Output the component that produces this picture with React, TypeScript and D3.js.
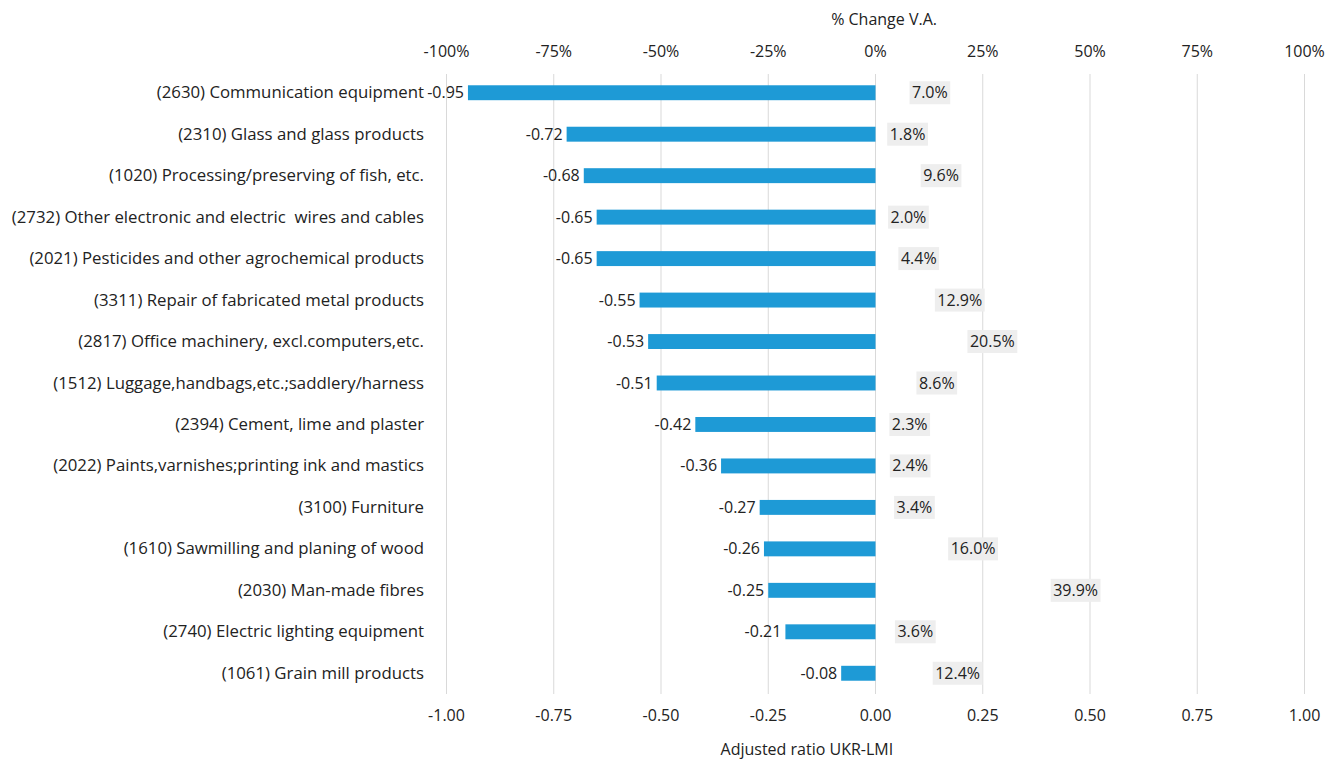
import React from "react";
import * as d3 from "d3";

const categories = [
  "(2630) Communication equipment",
  "(2310) Glass and glass products",
  "(1020) Processing/preserving of fish, etc.",
  "(2732) Other electronic and electric  wires and cables",
  "(2021) Pesticides and other agrochemical products",
  "(3311) Repair of fabricated metal products",
  "(2817) Office machinery, excl.computers,etc.",
  "(1512) Luggage,handbags,etc.;saddlery/harness",
  "(2394) Cement, lime and plaster",
  "(2022) Paints,varnishes;printing ink and mastics",
  "(3100) Furniture",
  "(1610) Sawmilling and planing of wood",
  "(2030) Man-made fibres",
  "(2740) Electric lighting equipment",
  "(1061) Grain mill products",
];
const ratioValues = [-0.95, -0.72, -0.68, -0.65, -0.65, -0.55, -0.53, -0.51, -0.42, -0.36, -0.27, -0.26, -0.25, -0.21, -0.08];
const pctChange = [0.07, 0.018, 0.096, 0.02, 0.044, 0.129, 0.205, 0.086, 0.023, 0.024, 0.034, 0.16, 0.399, 0.036, 0.124];
const bottomTicks = [-1, -0.75, -0.5, -0.25, 0, 0.25, 0.5, 0.75, 1];
const topTicks = [-1, -0.75, -0.5, -0.25, 0, 0.25, 0.5, 0.75, 1];

const W = 1342;
const H = 759;
const FONT = "'Open Sans', 'Noto Sans', sans-serif";
const TEXT = "#222";
const BAR = "#1e9ad6";
const GRID = "#d9d9d9";
const FS = 16;
const FS_CAT = 16.8;

let ctx: CanvasRenderingContext2D | null = null;
function measure(s: string): number {
  if (!ctx) {
    const c = document.createElement("canvas");
    ctx = c.getContext("2d");
  }
  if (!ctx) return s.length * 8.5;
  ctx.font = `${FS}px 'Open Sans'`;
  return ctx.measureText(s).width;
}

export default function App() {
  const x = d3.scaleLinear().domain([-1, 1]).range([446.5, 1304.5]);
  const y = d3.scaleBand().domain(categories).range([72, 694]).paddingInner(0.64).paddingOuter(0.32);
  const fmtB = (v: number) => d3.format(".2f")(v).replace("\u2212", "-");
  const fmtT = (v: number) => `${Math.round(v * 100)}%`;
  const fmtP = (v: number) => d3.format(".1%")(v).replace("\u2212", "-");

  return (
    <svg width={W} height={H} style={{ position: "absolute", left: 0, top: 0, background: "#fff" }} fontFamily={FONT}>
      {bottomTicks.map((t) => (
        <line key={"g" + t} x1={x(t)} x2={x(t)} y1={74} y2={694} stroke={GRID} strokeWidth={1} />
      ))}
      {topTicks.map((t) => (
        <text key={"tt" + t} x={x(t)} y={57} textAnchor="middle" fontSize={FS} fill={TEXT}>
          {fmtT(t)}
        </text>
      ))}
      <text x={x(0.02)} y={25} textAnchor="middle" fontSize={FS} fill={TEXT}>% Change V.A.</text>
      {bottomTicks.map((t) => (
        <text key={"bt" + t} x={x(t)} y={721} textAnchor="middle" fontSize={FS} fill={TEXT}>
          {fmtB(t)}
        </text>
      ))}
      <text x={x(-0.16)} y={755} textAnchor="middle" fontSize={FS} fill={TEXT}>Adjusted ratio UKR-LMI</text>
      {categories.map((c, i) => {
        const yc = (y(c) as number) + y.bandwidth() / 2;
        const v = ratioValues[i];
        const p = pctChange[i];
        const lbl = fmtP(p);
        const px = x(p) + 4;
        const tw = measure(lbl);
        return (
          <g key={c}>
            <text x={424} y={yc + 5.5} textAnchor="end" fontSize={FS_CAT} fill={TEXT} style={{ whiteSpace: "pre" }}>{c}</text>
            <rect x={x(v)} y={y(c)} width={x(0) - x(v)} height={y.bandwidth()} fill={BAR} />
            <text x={x(v) - 4} y={yc + 5.5} textAnchor="end" fontSize={FS} fill={TEXT}>{fmtB(v)}</text>
            <rect x={px} y={yc - 11.5} width={tw + 5} height={23} fill="#eeeeee" />
            <text x={px + 2.5} y={yc + 5.5} fontSize={FS} fill={TEXT}>{lbl}</text>
          </g>
        );
      })}
    </svg>
  );
}
